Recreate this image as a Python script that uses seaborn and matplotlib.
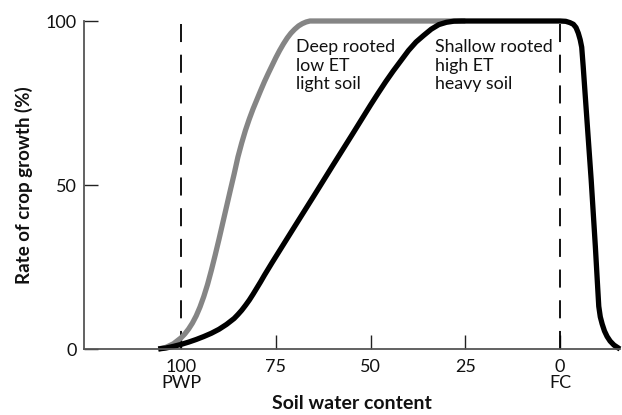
import matplotlib
matplotlib.use("Agg")
import matplotlib.pyplot as plt
import seaborn as sns

# --- data ---
gray_x = [106, 104, 102, 100, 99, 98, 97, 96, 95, 94, 93, 92, 91, 90, 89, 88, 87, 86,
          85, 84, 83, 82, 81, 80, 79, 78, 77, 76, 75, 74, 73, 72, 71, 70, 69, 68, 67, 66,
          60, 40, 25]
gray_y = [0, 0.5, 1.6, 3.4, 4.6, 6.1, 7.9, 10.1, 12.8, 16.0, 19.7, 24.0, 28.6, 33.4, 38.4,
          43.4, 48.4, 53.3, 58.5, 62.8, 66.7, 70.1, 73.2, 76.0, 78.8, 81.5, 84.0, 86.4, 88.8,
          91.0, 93.0, 94.8, 96.3, 97.5, 98.5, 99.2, 99.7, 100, 100, 100, 100]

black_x = [106, 104, 102, 100, 98, 96, 94, 92, 90, 88, 86, 85, 84, 83, 82, 81, 80, 79,
           78, 77, 76, 70, 65, 60, 55, 50, 48, 46, 44, 42, 40, 38, 36, 34, 32, 30, 28, 26,
           15, 0, -1.5, -2.6, -3.5, -4.2, -4.8, -5.3, -5.7, -6.1, -7.1, -8.2, -9.3, -9.8,
           -10.2, -10.6, -11.1, -11.7, -12.4, -13.2, -14.2, -15.5, -15.8]
black_y = [0, 0.3, 0.8, 1.4, 2.1, 2.9, 3.8, 4.8, 6.0, 7.5, 9.3, 10.5, 11.8, 13.3, 14.9,
           16.7, 18.6, 20.5, 22.5, 24.4, 26.3, 37.4, 46.6, 55.9, 65.1, 74.4, 78.0, 81.5, 84.8,
           87.9, 91.0, 93.6, 95.6, 97.5, 98.9, 99.6, 99.95, 100,
           100, 100, 99.9, 99.5, 99.0, 98.0, 96.3, 94.3, 92.0, 86.0, 69.5, 51.5, 31.2, 21.0,
           13.0, 9.8, 7.6, 5.5, 3.8, 2.4, 1.2, 0.2, 0]

x_ticks = [100, 75, 50, 25, 0]
x_tick_labels = ["100\nPWP", "75", "50", "25", "0\nFC"]
y_ticks = [0, 50, 100]
y_tick_labels = ["0", "50", "100"]
ref_lines = [100, 0]

label_deep = "Deep rooted\nlow ET\nlight soil"
label_shallow = "Shallow rooted\nhigh ET\nheavy soil"

sns.set_theme(style="ticks")
plt.rcParams['font.family'] = ['Lato', 'DejaVu Sans']

fig = plt.figure(figsize=(6.22, 4.15), dpi=100)
ax = fig.add_axes([84/622, 1-349/415, (620-84)/622, (349-21)/415])

for xv in ref_lines:
    ax.plot([xv, xv], [0, 101.5], color="black", lw=1.3, ls=(0, (10, 7)), clip_on=False, zorder=1)

sns.lineplot(x=gray_x, y=gray_y, sort=False, estimator=None, color="#858585", lw=3.8, ax=ax)
sns.lineplot(x=black_x, y=black_y, sort=False, estimator=None, color="black", lw=3.8, ax=ax)
for ln in ax.get_lines()[-2:]:
    ln.set_clip_on(False)
    ln.set_solid_joinstyle("round")
    ln.set_solid_capstyle("butt")

ax.set_xlim(125.6, -15.8)
ax.set_ylim(0, 100)

ax.set_xticks(x_ticks)
ax.set_xticklabels(x_tick_labels, linespacing=1.0)
ax.set_yticks(y_ticks)
ax.set_yticklabels(y_tick_labels)

ax.tick_params(axis="both", direction="in", length=10, width=1.0, color="#222222",
               labelsize=13, labelcolor="#111111")
ax.tick_params(axis="x", pad=7)
ax.tick_params(axis="y", pad=5)

for s in ["top", "right"]:
    ax.spines[s].set_visible(False)
for s in ["left", "bottom"]:
    ax.spines[s].set_color("#555555")
    ax.spines[s].set_linewidth(1.3)

ax.set_xlabel("Soil water content", fontsize=14, fontweight="bold", color="#111111", labelpad=3)
ax.set_ylabel("Rate of crop growth (%)", fontsize=13.5, fontweight="bold", color="#111111", labelpad=9)

ax.text(69.7, 94.5, label_deep, fontsize=12.8, va="top", ha="left", linespacing=1.2, color="#111111")
ax.text(33.0, 94.5, label_shallow, fontsize=12.8, va="top", ha="left", linespacing=1.2, color="#111111")

fig.savefig("out.png", dpi=100)
